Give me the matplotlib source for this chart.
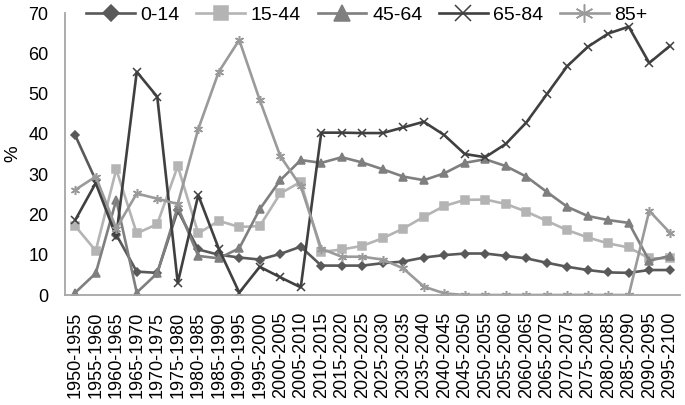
import matplotlib
matplotlib.use("Agg")
import matplotlib.pyplot as plt
import numpy as np

plt.rcParams['font.family'] = ['Liberation Sans', 'DejaVu Sans']

periods = ["1950-1955", "1955-1960", "1960-1965", "1965-1970", "1970-1975", "1975-1980",
           "1980-1985", "1985-1990", "1990-1995", "1995-2000", "2000-2005", "2005-2010",
           "2010-2015", "2015-2020", "2020-2025", "2025-2030", "2030-2035", "2035-2040",
           "2040-2045", "2045-2050", "2050-2055", "2055-2060", "2060-2065", "2065-2070",
           "2070-2075", "2075-2080", "2080-2085", "2085-2090", "2090-2095", "2095-2100"]

age_0_14 = [39.6, 28.5, 15.0, 5.8, 5.5, 21.0, 11.3, 10.0, 9.3, 8.8, 10.2, 12.0, 7.3, 7.3, 7.3,
            7.9, 8.3, 9.3, 9.9, 10.3, 10.3, 9.7, 9.1, 8.0, 7.0, 6.2, 5.6, 5.5, 6.2, 6.2]
age_15_44 = [17.1, 11.0, 31.2, 15.3, 17.6, 32.0, 15.3, 18.4, 16.9, 17.1, 25.2, 28.1, 10.7, 11.3, 12.2,
             14.1, 16.5, 19.4, 22.1, 23.6, 23.7, 22.6, 20.7, 18.4, 16.1, 14.3, 12.8, 11.8, 9.1, 9.1]
age_45_64 = [0.6, 5.4, 23.6, 0.6, 5.4, 21.9, 9.7, 9.1, 11.6, 21.3, 28.5, 33.5, 32.8, 34.2, 32.9,
             31.2, 29.4, 28.5, 30.2, 32.8, 33.7, 32.0, 29.4, 25.6, 21.9, 19.6, 18.6, 17.9, 8.5, 9.7]
age_65_84 = [18.6, 27.8, 14.5, 55.4, 49.2, 3.0, 24.8, 11.5, 0.6, 7.0, 4.4, 1.9, 40.3, 40.3, 40.2,
             40.2, 41.6, 43.0, 39.7, 35.0, 34.2, 37.5, 42.8, 49.8, 56.8, 61.6, 64.9, 66.6, 57.6, 61.8]
age_85p = [26.1, 29.4, 16.5, 25.2, 23.9, 22.6, 41.2, 55.4, 63.3, 48.4, 34.5, 27.0, 11.5, 9.5, 9.5,
           8.8, 6.6, 2.1, 0.4, 0.0, 0.0, 0.0, 0.0, 0.0, 0.0, 0.0, 0.0, 0.0, 20.9, 15.5]

series_names = ["0-14", "15-44", "45-64", "65-84", "85+"]
series_values = [age_0_14, age_15_44, age_45_64, age_65_84, age_85p]
colors = ['#595959', '#b4b4b4', '#7f7f7f', '#404040', '#9a9a9a']
markers = ['D', 's', '^', 'x', (6, 2, 0)]
msizes = [4.2, 5.2, 5.8, 5.5, 6.5]

fig = plt.figure(figsize=(6.85, 4.05), dpi=100)
ax = fig.add_axes([65/685, 110/405, 615/685, 282/405])

x = np.arange(len(periods))
for name, vals, c, m, ms in zip(series_names, series_values, colors, markers, msizes):
    ax.plot(x, vals, color=c, lw=1.9, marker=m, markersize=ms, markeredgewidth=1.1,
            markerfacecolor=c, markeredgecolor=c, label=name)

ax.set_xlim(-0.5, len(periods) - 0.5)
ax.set_ylim(0, 70)
ax.set_yticks(np.arange(0, 71, 10))
ax.set_xticks(x)
ax.set_xticklabels(periods, rotation=90, fontsize=13)
ax.tick_params(axis='y', length=0, pad=12, labelsize=13)
ax.tick_params(axis='x', length=0, pad=12)
for s in ['top', 'right']:
    ax.spines[s].set_visible(False)
for s in ['left', 'bottom']:
    ax.spines[s].set_color('#a6a6a6')
    ax.spines[s].set_linewidth(1.3)
ax.set_ylabel('%', fontsize=13.5, labelpad=5)

fig.legend(loc='center', bbox_to_anchor=(367/685, 1 - 15/405), ncol=5, frameon=False,
           fontsize=14, handlelength=2.5, handletextpad=0.3, columnspacing=0.85,
           markerscale=2.0, borderpad=0)

fig.savefig('out.png', dpi=100)
